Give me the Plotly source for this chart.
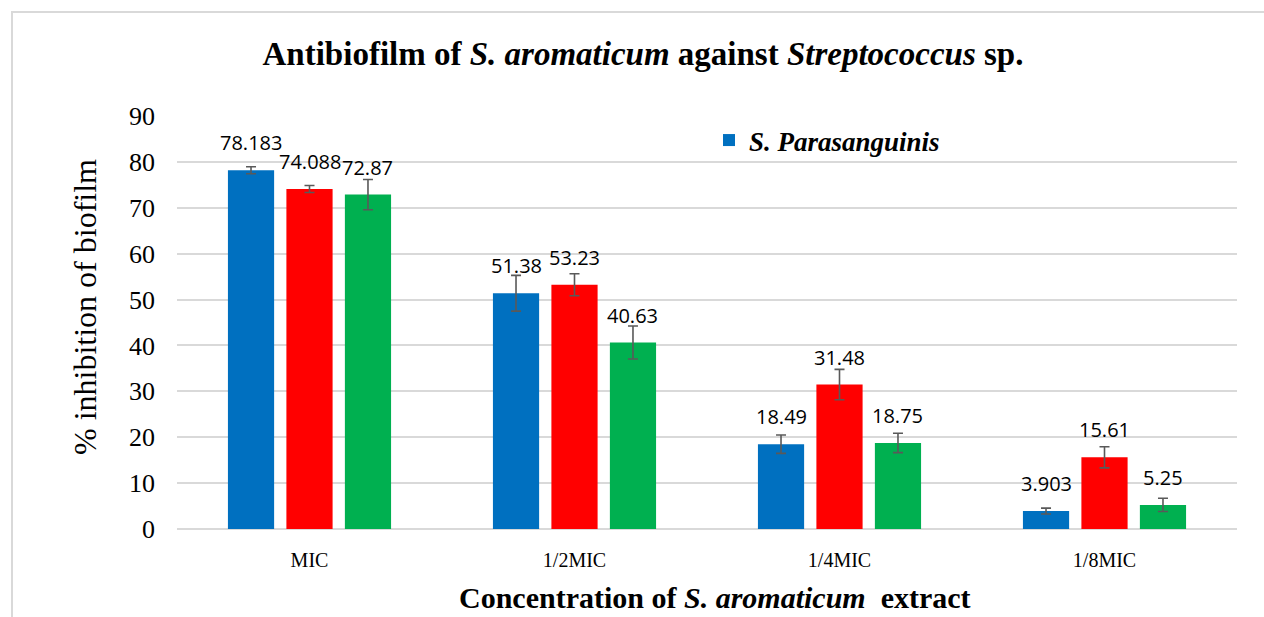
import plotly.graph_objects as go

categories = ["MIC", "1/2MIC", "1/4MIC", "1/8MIC"]
series_names = ["S. Parasanguinis", "Series 2", "Series 3"]
blue_vals = [78.183, 51.38, 18.49, 3.903]
red_vals = [74.088, 53.23, 31.48, 15.61]
green_vals = [72.87, 40.63, 18.75, 5.25]
blue_err = [0.76, 3.9, 2.0, 0.65]
red_err = [0.76, 2.4, 3.3, 2.3]
green_err = [3.3, 3.6, 2.1, 1.45]
blue_labels = ["78.183", "51.38", "18.49", "3.903"]
red_labels = ["74.088", "53.23", "31.48", "15.61"]
green_labels = ["72.87", "40.63", "18.75", "5.25"]

colors = ["#0070C0", "#FF0000", "#00B050"]
vals = [blue_vals, red_vals, green_vals]
errs = [blue_err, red_err, green_err]
labels = [blue_labels, red_labels, green_labels]

W, H = 1264, 617
ml, mr, mt, mb = 177, 27, 116, 88
bargap = 0.338
bargroupgap = 0.21

fig = go.Figure()
for i in range(3):
    fig.add_trace(go.Bar(
        x=categories, y=vals[i], name=series_names[i],
        marker=dict(color=colors[i], line=dict(width=0)),
        error_y=dict(type="data", array=errs[i], visible=True,
                     color="#595959", thickness=1.6, width=5),
        showlegend=(i == 0),
    ))

plot_w = W - ml - mr
plot_h = H - mt - mb
cat_px = plot_w / len(categories)
slot = cat_px * (1 - bargap) / 3
annotations = []
for i in range(3):
    for j, c in enumerate(categories):
        annotations.append(dict(
            x=c, y=vals[i][j], xref="x", yref="y",
            text=labels[i][j], showarrow=False,
            xanchor="center", yanchor="bottom",
            xshift=(i - 1) * slot, yshift=12,
            font=dict(family="Open Sans", size=20, color="#000000"),
        ))

annotations.append(dict(
    x=(715 - ml) / plot_w, y=-(597 - (H - mb)) / plot_h, xref="paper", yref="paper",
    text="<b>Concentration of <i>S. aromaticum</i>  extract</b>",
    showarrow=False, xanchor="center", yanchor="middle",
    font=dict(family="Liberation Serif", size=30, color="#000000"),
))
annotations.append(dict(
    x=-(ml - 85) / plot_w, y=((H - mb) - 307) / plot_h, xref="paper", yref="paper",
    text="% inhibition of biofilm", textangle=-90,
    showarrow=False, xanchor="center", yanchor="middle",
    font=dict(family="Liberation Serif", size=32, color="#000000"),
))

fig.update_layout(
    width=W, height=H,
    margin=dict(l=ml, r=mr, t=mt, b=mb, pad=0),
    paper_bgcolor="white", plot_bgcolor="white",
    barmode="group", bargap=bargap, bargroupgap=bargroupgap,
    title=dict(
        text="<b>Antibiofilm of <i>S. aromaticum</i> against <i>Streptococcus</i> sp.</b>",
        x=643 / W, xanchor="center", y=1 - 53 / H, yanchor="middle",
        font=dict(family="Liberation Serif", size=33, color="#000000"),
    ),
    legend=dict(
        x=(709 - ml) / plot_w, y=((H - mb) - 116) / plot_h, xanchor="left", yanchor="top",
        bgcolor="rgba(0,0,0,0)", itemwidth=30,
        font=dict(family="Liberation Serif", size=27, color="#000000"),
    ),
    xaxis=dict(
        showline=False, ticks="", showgrid=False,
        tickfont=dict(family="Liberation Serif", size=20, color="#000000"),
        ticklabelstandoff=17,
    ),
    yaxis=dict(
        range=[0, 90], dtick=10, showline=False, ticks="",
        gridcolor="#d9d9d9", gridwidth=1.5,
        zeroline=True, zerolinecolor="#d9d9d9", zerolinewidth=1.5,
        tickfont=dict(family="Liberation Serif", size=26, color="#000000"),
        ticklabelstandoff=21,
    ),
    annotations=annotations,
    shapes=[dict(
        type="rect", xref="paper", yref="paper",
        x0=(12 - ml) / plot_w, x1=1.2,
        y0=-0.5, y1=(H - mb - 12) / plot_h,
        line=dict(color="#d9d9d9", width=2), fillcolor="rgba(0,0,0,0)",
        layer="below",
    )],
)
fig.data[0].name = "<b><i>S. Parasanguinis</i></b>"

fig.write_html("out.html", config={"displayModeBar": False},
               post_script="document.body.style.margin='0px';")
